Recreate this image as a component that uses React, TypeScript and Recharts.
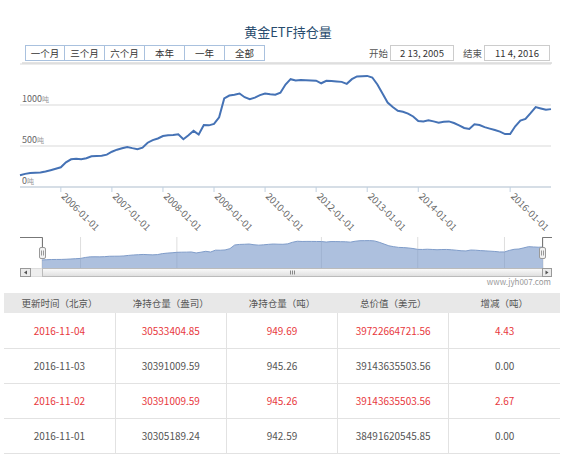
import React from 'react';
import { LineChart, Line, AreaChart, Area, XAxis, YAxis, CartesianGrid } from 'recharts';

// ordinal points (equal spacing, like the source's ordinal time axis)
const dates = [
  '2005-02-13', '2005-03-25', '2005-05-04', '2005-06-13', '2005-07-23', '2005-09-01', '2005-10-11', '2005-11-20',
  '2006-01-01', '2006-02-06', '2006-03-15', '2006-04-21', '2006-05-28', '2006-07-04', '2006-08-09', '2006-09-15', '2006-10-22', '2006-11-27',
  '2007-01-01', '2007-02-06', '2007-03-15', '2007-04-21', '2007-05-28', '2007-07-04', '2007-08-09', '2007-09-15', '2007-10-22', '2007-11-27',
  '2008-01-01', '2008-02-06', '2008-03-15', '2008-04-21', '2008-05-28', '2008-07-04', '2008-08-09', '2008-09-15', '2008-10-22', '2008-11-27',
  '2009-01-01', '2009-02-06', '2009-03-15', '2009-04-21', '2009-05-28', '2009-07-04', '2009-08-09', '2009-09-15', '2009-10-22', '2009-11-27',
  '2010-01-01', '2010-03-15', '2010-05-27', '2010-08-08', '2010-10-20', '2011-01-01', '2011-03-15', '2011-05-27', '2011-08-08', '2011-10-20',
  '2012-01-01', '2012-02-06', '2012-03-15', '2012-04-21', '2012-05-28', '2012-07-04', '2012-08-09', '2012-09-15', '2012-10-22', '2012-11-27',
  '2013-01-01', '2013-02-06', '2013-03-15', '2013-04-21', '2013-05-28', '2013-07-04', '2013-08-09', '2013-09-15', '2013-10-22', '2013-11-27',
  '2014-01-01', '2014-02-10', '2014-03-23', '2014-05-02', '2014-06-12', '2014-07-22', '2014-09-01', '2014-10-11', '2014-11-21',
  '2015-01-01', '2015-02-10', '2015-03-23', '2015-05-02', '2015-06-12', '2015-07-22', '2015-09-01', '2015-10-11', '2015-11-21',
  '2016-01-01', '2016-02-08', '2016-03-18', '2016-04-25', '2016-06-02', '2016-07-11', '2016-08-18', '2016-09-26', '2016-11-04',
];

// tonnes
const holdings = [
  143, 160, 171, 174, 176, 188, 205, 222,
  240, 300, 338, 343, 338, 350, 375, 378, 380, 395,
  430, 455, 472, 488, 474, 462, 480, 540, 572, 592,
  622, 630, 633, 643, 582, 630, 685, 640, 755, 752,
  770, 850, 1080, 1115, 1125, 1140, 1095, 1070, 1090, 1120,
  1140, 1130, 1125, 1150, 1250, 1315, 1300, 1305, 1303, 1300,
  1297, 1265, 1295, 1293, 1288, 1282, 1258, 1315, 1348, 1352,
  1355, 1335, 1250, 1140, 1030, 975, 930, 918, 895, 860,
  805, 800, 815, 800, 783, 796, 800, 780, 752,
  720, 708, 765, 755, 730, 712, 695, 675, 645,
  645, 740, 810, 830, 900, 975, 958, 941, 949.69,
];

const axisTickDates = ['2006-01-01', '2007-01-01', '2008-01-01', '2009-01-01', '2010-01-01', '2012-01-01', '2013-01-01', '2014-01-01', '2016-01-01'];
const navTickDates = ['2006-01-01', '2008-01-01', '2012-01-01', '2014-01-01', '2016-01-01'];
const yTicks = [0, 500, 1000];

const rangeButtons = ['一个月', '三个月', '六个月', '本年', '一年', '全部'];
const startDate = '2 13, 2005';
const endDate = '11 4, 2016';

const tableHead = ['更新时间（北京）', '净持仓量（盎司）', '净持仓量（吨）', '总价值（美元）', '增减（吨）'];
const tableDates = ['2016-11-04', '2016-11-03', '2016-11-02', '2016-11-01'];
const tableOunces = ['30533404.85', '30391009.59', '30391009.59', '30305189.24'];
const tableTonnes = ['949.69', '945.26', '945.26', '942.59'];
const tableValue = ['39722664721.56', '39143635503.56', '39143635503.56', '38491620545.85'];
const tableChange = ['4.43', '0.00', '2.67', '0.00'];

const data = dates.map((d, i) => ({ i, date: d, v: holdings[i] }));
const mainTicks = axisTickDates.map(d => dates.indexOf(d));
const navTicks = navTickDates.map(d => dates.indexOf(d));

const FONT = '"Noto Sans CJK SC", "Noto Sans", sans-serif';

const XTick = (props: any) => {
  const { x, y, payload } = props;
  const tx = x;
  const ty = y + 3;
  return (
    <text x={tx} y={ty} transform={`rotate(45 ${tx} ${ty})`} textAnchor="start" fontSize={9.5} fill="#666" fontFamily={FONT}>
      {dates[payload.value]}
    </text>
  );
};

const YTick = (props: any) => {
  const { y, payload } = props;
  return (
    <text x={22} y={y - 3} fontSize={9} fill="#666" fontFamily={FONT}>
      {payload.value}
      <tspan fontSize={7} fill="#999">吨</tspan>
    </text>
  );
};

const NavTick = (props: any) => {
  const { x, payload } = props;
  return (
    <text x={x + 3} y={33.5} fontSize={9} fill="#666" fontFamily={FONT}>
      {dates[payload.value].slice(0, 4)}
    </text>
  );
};

const App: React.FC = () => {
  return (
    <div style={{ position: 'relative', width: 576, height: 461, fontFamily: FONT, background: '#fff', overflow: 'hidden' }}>
      <style>{'body{margin:0}'}</style>

      <div style={{ position: 'absolute', left: 0, width: 576, top: 24, textAlign: 'center', fontSize: 13, lineHeight: '16px', color: '#274b6d' }}>
        黄金ETF持仓量
      </div>

      <div style={{ position: 'absolute', left: 25, top: 45, display: 'flex' }}>
        {rangeButtons.map((b, k) => (
          <div
            key={b}
            style={{
              width: 40, height: 16, boxSizing: 'border-box', border: '1px solid #a9c1de',
              borderLeft: k === 0 ? '1px solid #a9c1de' : 'none', fontSize: 9.5, lineHeight: '14px',
              textAlign: 'center', color: '#333', background: '#fff',
            }}
          >
            {b}
          </div>
        ))}
      </div>

      <div style={{ position: 'absolute', left: 369, top: 45, fontSize: 9.5, lineHeight: '16px', color: '#555' }}>开始</div>
      <div style={{ position: 'absolute', left: 390, top: 45, width: 64, height: 16, boxSizing: 'border-box', border: '1px solid #ccc', fontSize: 9.5, lineHeight: '14px', textAlign: 'center', color: '#333' }}>{startDate}</div>
      <div style={{ position: 'absolute', left: 463, top: 45, fontSize: 9.5, lineHeight: '16px', color: '#555' }}>结束</div>
      <div style={{ position: 'absolute', left: 484, top: 45, width: 66, height: 16, boxSizing: 'border-box', border: '1px solid #ccc', fontSize: 9.5, lineHeight: '14px', textAlign: 'center', color: '#333' }}>{endDate}</div>
      <div style={{ position: 'absolute', left: 22, top: 62, width: 530, height: 2, background: '#e3e3e3' }} />

      <div style={{ position: 'absolute', left: 0, top: 0 }}>
        <LineChart width={576} height={240} data={data} margin={{ top: 64, right: 25, bottom: 0, left: 19 }}>
          <CartesianGrid vertical={false} stroke="#d9d9d9" />
          <XAxis
            type="number" dataKey="i" domain={[0, dates.length - 1]} ticks={mainTicks} interval={0}
            height={53} stroke="#c0d0e0" tickSize={5} tick={<XTick />}
          />
          <YAxis
            type="number" domain={[0, 1500]} ticks={yTicks} interval={0} width={1}
            axisLine={false} tickLine={false} tick={<YTick />}
          />
          <Line type="linear" dataKey="v" stroke="#4572b5" strokeWidth={2} dot={false} isAnimationActive={false} />
        </LineChart>
      </div>

      <div style={{ position: 'absolute', left: 0, top: 230 }}>
        <AreaChart width={576} height={50} data={data} margin={{ top: 7, right: 33, bottom: 12, left: 42 }}>
          <CartesianGrid horizontal={false} stroke="#dedede" />
          <XAxis
            type="number" dataKey="i" domain={[0, dates.length - 1]} ticks={navTicks} interval={0}
            height={0} axisLine={false} tickLine={false} tick={<NavTick />}
          />
          <YAxis hide domain={[-360, 1580]} allowDataOverflow />
          <Area type="linear" dataKey="v" baseValue="dataMin" fill="#7796c8" fillOpacity={0.6} stroke="#7f9cc9" strokeWidth={1} isAnimationActive={false} />
        </AreaChart>
      </div>

      <svg width={576} height={461} style={{ position: 'absolute', left: 0, top: 0, pointerEvents: 'none' }}>
        <defs>
          <linearGradient id="thumb" x1="0" y1="0" x2="0" y2="1">
            <stop offset="0" stopColor="#fbfbfb" />
            <stop offset="1" stopColor="#dedede" />
          </linearGradient>
        </defs>
        <path d="M20 237.5 H42.5 V248" fill="none" stroke="#777" />
        <path d="M542.5 248 V237.5 H552" fill="none" stroke="#777" />
        <rect x={39.5} y={247.5} width={6} height={11} rx={1.5} fill="#f2f2f2" stroke="#999" />
        <path d="M41.5 250.5 V255.5 M43.5 250.5 V255.5" stroke="#999" />
        <rect x={539.5} y={247.5} width={6} height={11} rx={1.5} fill="#f2f2f2" stroke="#999" />
        <path d="M541.5 250.5 V255.5 M543.5 250.5 V255.5" stroke="#999" />
        <rect x={20.5} y={268.5} width={531} height={8} fill="#eee" stroke="#ddd" />
        <rect x={42.5} y={268.5} width={500} height={8} fill="url(#thumb)" stroke="#bbb" />
        <path d="M290.5 270.5 V274.5 M292.5 270.5 V274.5 M294.5 270.5 V274.5" stroke="#888" />
        <rect x={20.5} y={268.5} width={10} height={8} fill="#ebebeb" stroke="#999" />
        <path d="M24 272.5 L27 270.5 V274.5 Z" fill="#555" />
        <rect x={542.5} y={268.5} width={9} height={8} fill="#ebebeb" stroke="#999" />
        <path d="M548.5 272.5 L545.5 270.5 V274.5 Z" fill="#555" />
        <text x={551} y={285} textAnchor="end" fontSize={8} fill="#999" fontFamily={FONT}>www.jyh007.com</text>
      </svg>

      <table
        style={{
          position: 'absolute', left: 4, top: 293, width: 556, borderCollapse: 'collapse',
          tableLayout: 'fixed', fontSize: 10, color: '#555', textAlign: 'center',
        }}
      >
        <thead>
          <tr style={{ background: '#e8e8e8', height: 20 }}>
            {tableHead.map(h => (
              <th key={h} style={{ fontWeight: 'normal', fontSize: 9.5, padding: 0 }}>{h}</th>
            ))}
          </tr>
        </thead>
        <tbody>
          {tableDates.map((d, r) => {
            const color = parseFloat(tableChange[r]) > 0 ? '#e8383d' : '#555';
            const cells = [d, tableOunces[r], tableTonnes[r], tableValue[r], tableChange[r]];
            return (
              <tr key={d} style={{ height: 35, color }}>
                {cells.map((c, k) => (
                  <td
                    key={k}
                    style={{
                      padding: 0, borderBottom: '1px solid #e2e2e2',
                      borderLeft: k === 0 ? 'none' : '1px solid #e2e2e2',
                    }}
                  >
                    {c}
                  </td>
                ))}
              </tr>
            );
          })}
        </tbody>
      </table>
    </div>
  );
};

export default App;
